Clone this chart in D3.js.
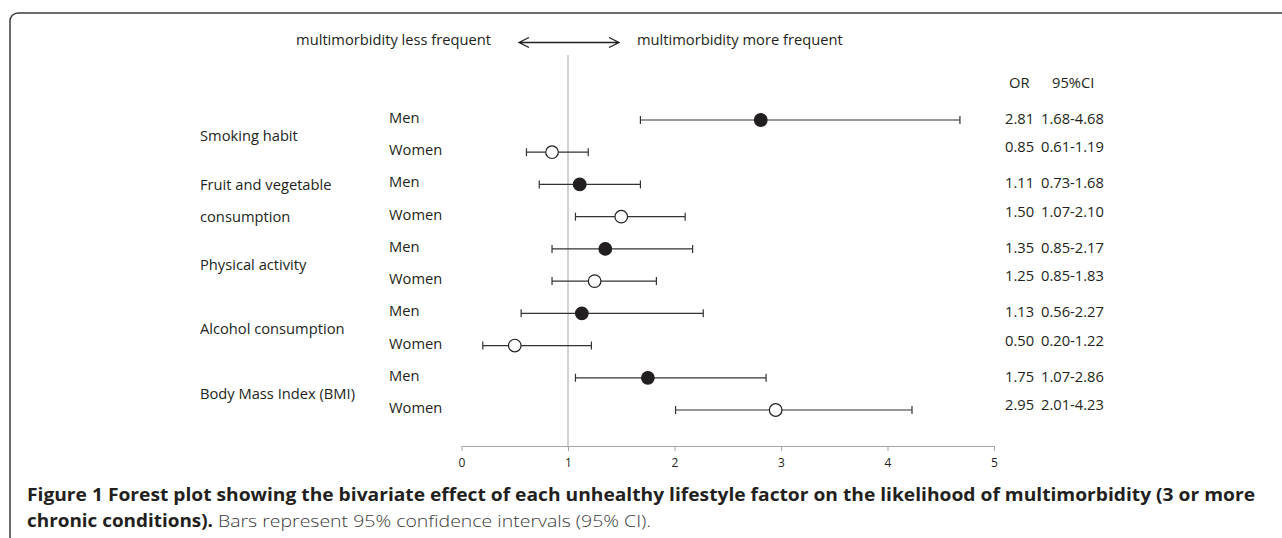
<!DOCTYPE html>
<meta charset="utf-8">
<style>
body { margin: 0; background: #fff; }
svg { display: block; font-family: "Open Sans", sans-serif; }
.lbl { font-size: 14.7px; fill: #231f20; }
.ci { stroke: #333; stroke-width: 1.2px; }
.refline { stroke: #a6a6a6; stroke-width: 1px; }
.axis path, .axis line { stroke: #a6a6a6; }
.axis text { font-family: "Open Sans", sans-serif; font-size: 12px; fill: #231f20; }
.frame { fill: none; stroke: #3c3c3c; stroke-width: 1.5px; }
</style>
<body>
<script src="https://d3js.org/d3.v7.min.js" charset="utf-8"></script>
<script>

// data
var groups = ["Smoking habit", "Fruit and vegetable consumption", "Physical activity",
              "Alcohol consumption", "Body Mass Index (BMI)"];
var sexes = ["Men", "Women"];
var oddsRatio = [2.81, 0.85, 1.11, 1.50, 1.35, 1.25, 1.13, 0.50, 1.75, 2.95];
var ciLow     = [1.68, 0.61, 0.73, 1.07, 0.85, 0.85, 0.56, 0.20, 1.07, 2.01];
var ciHigh    = [4.68, 1.19, 1.68, 2.10, 2.17, 1.83, 2.27, 1.22, 2.86, 4.23];
var xTicks = [0, 1, 2, 3, 4, 5];

var width = 1282,
    height = 538;

var svg = d3.select("body").append("svg")
    .attr("width", width)
    .attr("height", height);

// frame: rounded top-left corner, open to the right and bottom
svg.append("path")
    .attr("class", "frame")
    .attr("d", "M10,538 V21 A8,8 0 0 1 18,13 H1282");

var x = d3.scaleLinear()
    .domain([0, 5])
    .range([461.5, 994]);

var rows = [];
groups.forEach((g, gi) => {
  sexes.forEach((s, si) => {
    var i = gi * 2 + si;
    rows.push({ id: i, group: g, sex: s, or: oddsRatio[i], lo: ciLow[i], hi: ciHigh[i] });
  });
});

var y = d3.scalePoint()
    .domain(rows.map(d => d.id))
    .range([120, 410]);

var axisY = 446;

// reference line at OR = 1
svg.append("line")
    .attr("class", "refline")
    .attr("x1", x(1)).attr("x2", x(1))
    .attr("y1", 55).attr("y2", axisY);

// axis
var axis = d3.axisBottom(x)
    .tickValues(xTicks)
    .tickSize(5)
    .tickSizeOuter(0)
    .tickFormat(d3.format("d"));

svg.append("g")
    .attr("class", "axis")
    .attr("transform", `translate(0,${axisY})`)
    .call(axis)
    .call(g => g.selectAll("text").attr("dy", "1.1em"));

// header
var headY = 44.5;
svg.append("text").attr("class", "lbl")
    .attr("x", 491).attr("y", headY)
    .attr("text-anchor", "end")
    .text("multimorbidity less frequent");
svg.append("text").attr("class", "lbl")
    .attr("x", 637).attr("y", headY)
    .text("multimorbidity more frequent");

var arrowY = 42.5, ax0 = 519, ax1 = 619;
svg.append("path")
    .attr("d", `M${ax0},${arrowY} H${ax1} M${ax0 + 10},${arrowY - 5} L${ax0},${arrowY} L${ax0 + 10},${arrowY + 5}` +
               ` M${ax1 - 10},${arrowY - 5} L${ax1},${arrowY} L${ax1 - 10},${arrowY + 5}`)
    .attr("fill", "none")
    .attr("stroke", "#231f20")
    .attr("stroke-width", 1.3);

// group labels, centred between the two rows
var grp = svg.selectAll("g.grp")
    .data(groups)
  .enter().append("g")
    .attr("class", "grp");

grp.each(function(g, gi) {
  var mid = (y(gi * 2) + y(gi * 2 + 1)) / 2;
  var lines = g == "Fruit and vegetable consumption" ? ["Fruit and vegetable", "consumption"] : [g];
  d3.select(this).selectAll("text")
      .data(lines)
    .enter().append("text")
      .attr("class", "lbl")
      .attr("x", 200)
      .attr("y", (d, i) => mid + 5 + (i - (lines.length - 1) / 2) * 32)
      .text(d => d);
});

// Men / Women labels
svg.selectAll("text.sex")
    .data(rows)
  .enter().append("text")
    .attr("class", "lbl sex")
    .attr("x", 389)
    .attr("y", d => y(d.id) + 3)
    .text(d => d.sex);

// confidence intervals
var ci = svg.selectAll("g.ci")
    .data(rows)
  .enter().append("g")
    .attr("class", "ci");

ci.append("line")
    .attr("x1", d => x(d.lo)).attr("x2", d => x(d.hi))
    .attr("y1", d => y(d.id)).attr("y2", d => y(d.id));
ci.append("line")
    .attr("x1", d => x(d.lo)).attr("x2", d => x(d.lo))
    .attr("y1", d => y(d.id) - 4).attr("y2", d => y(d.id) + 4);
ci.append("line")
    .attr("x1", d => x(d.hi)).attr("x2", d => x(d.hi))
    .attr("y1", d => y(d.id) - 4).attr("y2", d => y(d.id) + 4);

// point estimates: filled for men, open for women
svg.selectAll("circle.pt")
    .data(rows)
  .enter().append("circle")
    .attr("class", "pt")
    .attr("cx", d => x(d.or))
    .attr("cy", d => y(d.id))
    .attr("r", 6.3)
    .attr("fill", d => d.sex == "Men" ? "#231f20" : "#fff")
    .attr("stroke", "#231f20")
    .attr("stroke-width", 1.2);

// OR / 95%CI table on the right
svg.append("text").attr("class", "lbl")
    .attr("x", 1009).attr("y", 88).text("OR");
svg.append("text").attr("class", "lbl")
    .attr("x", 1052).attr("y", 88).text("95%CI");

var fmt = d3.format(".2f");
var tab = svg.selectAll("g.tab")
    .data(rows)
  .enter().append("g")
    .attr("class", "tab");
tab.append("text").attr("class", "lbl")
    .attr("x", 1005)
    .attr("y", d => y(d.id) + (d.sex == "Men" ? 4 : 0))
    .text(d => fmt(d.or));
tab.append("text").attr("class", "lbl")
    .attr("x", 1041)
    .attr("y", d => y(d.id) + (d.sex == "Men" ? 4 : 0))
    .text(d => `${fmt(d.lo)}-${fmt(d.hi)}`);

// caption
svg.append("text")
    .attr("x", 27).attr("y", 501)
    .attr("textLength", 1228)
    .attr("lengthAdjust", "spacingAndGlyphs")
    .style("font-size", "17px").style("font-weight", 700).style("fill", "#231f20")
    .text("Figure 1 Forest plot showing the bivariate effect of each unhealthy lifestyle factor on the likelihood of multimorbidity (3 or more");
svg.append("text")
    .attr("x", 27).attr("y", 527)
    .attr("textLength", 186)
    .attr("lengthAdjust", "spacingAndGlyphs")
    .style("font-size", "17px").style("font-weight", 700).style("fill", "#231f20")
    .text("chronic conditions).");
svg.append("text")
    .attr("x", 218).attr("y", 527)
    .attr("textLength", 433)
    .attr("lengthAdjust", "spacingAndGlyphs")
    .style("font-size", "17px").style("font-weight", 300).style("fill", "#3a3a3a")
    .text("Bars represent 95% confidence intervals (95% CI).");

</script>
</body>
